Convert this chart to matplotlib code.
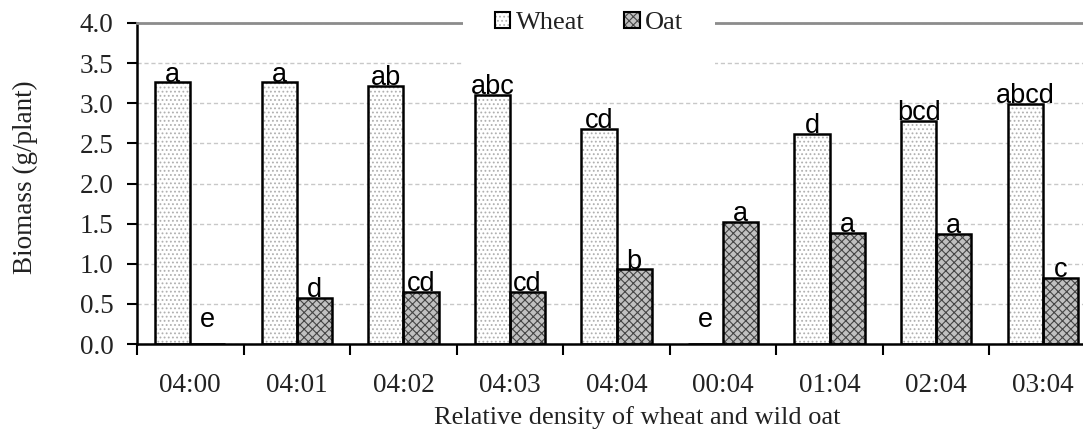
import matplotlib
matplotlib.use("Agg")
import matplotlib.pyplot as plt
import numpy as np
from matplotlib.patches import Patch
from matplotlib.legend_handler import HandlerTuple

categories = ["04:00", "04:01", "04:02", "04:03", "04:04",
              "00:04", "01:04", "02:04", "03:04"]
wheat = [3.26, 3.26, 3.22, 3.10, 2.68, 0.0, 2.62, 2.78, 2.99]
oat = [0.0, 0.57, 0.65, 0.65, 0.93, 1.52, 1.38, 1.37, 0.82]
wheat_letters = ["a", "a", "ab", "abc", "cd", "e", "d", "bcd", "abcd"]
oat_letters = ["e", "d", "cd", "cd", "b", "a", "a", "a", "c"]
yticks = [0.0, 0.5, 1.0, 1.5, 2.0, 2.5, 3.0, 3.5, 4.0]

serif = ["Liberation Serif", "DejaVu Serif"]
sans = ["Liberation Sans", "DejaVu Sans"]
plt.rcParams["font.family"] = serif
plt.rcParams["hatch.linewidth"] = 0.8
TXT = "#222222"

W, H = 1083, 432
fig = plt.figure(figsize=(W / 100, H / 100), dpi=100)
ax = fig.add_axes([137 / W, (H - 344) / H, (1096 - 137) / W, (344 - 23) / H])

x = np.arange(len(categories))
w = 0.33
WHEAT_HATCH, OAT_HATCH = "....", "xxxx"

# fill layers carry the hatch (hatch colour follows edgecolor), outline drawn on top
ax.bar(x - w / 2, wheat, w, color="white", edgecolor="#b0b0b0", hatch=WHEAT_HATCH,
       linewidth=0, zorder=2)
ax.bar(x + w / 2, oat, w, color="#c0c0c0", edgecolor="#454545", hatch=OAT_HATCH,
       linewidth=0, zorder=2)
ax.bar(x - w / 2, wheat, w, fill=False, edgecolor="black", linewidth=1.8, zorder=3)
ax.bar(x + w / 2, oat, w, fill=False, edgecolor="black", linewidth=1.8, zorder=3)

for xi, v, lab in zip(x - w / 2, wheat, wheat_letters):
    y = v if v > 0 else 0.2
    ax.text(xi, y + 0.01, lab, ha="center", va="baseline", fontsize=19.5,
            family=sans, color="black", zorder=4)
for xi, v, lab in zip(x + w / 2, oat, oat_letters):
    y = v if v > 0 else 0.2
    ax.text(xi, y + 0.01, lab, ha="center", va="baseline", fontsize=19.5,
            family=sans, color="black", zorder=4)

ax.set_xlim(-0.5, len(categories) - 0.5)
ax.set_ylim(0, 4.0)
ax.set_yticks(yticks)
ax.set_yticklabels([f"{t:.1f}" for t in yticks])
ax.set_xticks(np.arange(len(categories) + 1) - 0.5)
ax.set_xticklabels([])
ax.set_xticks(x, minor=True)
ax.set_xticklabels(categories, minor=True)
ax.tick_params(axis="x", which="major", direction="out", length=8, width=1.5, color="black")
ax.tick_params(axis="x", which="minor", length=0, pad=21, labelsize=19.5, labelcolor=TXT)
ax.tick_params(axis="y", direction="out", length=7, width=1.5, labelsize=19.5,
               pad=10, labelcolor=TXT)

ax.yaxis.grid(True, linestyle=(0, (3, 2)), color="#c8c8c8", linewidth=1.0)
ax.set_axisbelow(True)

for s in ["left", "bottom"]:
    ax.spines[s].set_linewidth(1.8)
    ax.spines[s].set_color("black")
ax.spines["top"].set_color("#8c8c8c")
ax.spines["top"].set_linewidth(2.0)
ax.spines["right"].set_visible(False)

ax.set_ylabel("Biomass (g/plant)", fontsize=19.5, labelpad=30, color=TXT)
ax.yaxis.label.set_y(0.52)
ax.set_xlabel("Relative density of wheat and wild oat", fontsize=19, labelpad=6, color=TXT)
ax.xaxis.label.set_x(0.522)

h_wheat = (Patch(facecolor="white", edgecolor="#b0b0b0", hatch=WHEAT_HATCH, linewidth=0),
           Patch(fill=False, edgecolor="black", linewidth=1.5))
h_oat = (Patch(facecolor="#c0c0c0", edgecolor="#454545", hatch=OAT_HATCH, linewidth=0),
         Patch(fill=False, edgecolor="black", linewidth=1.5))
leg = ax.legend([h_wheat, h_oat], ["Wheat", "Oat"], ncol=2, loc="center",
                bbox_to_anchor=(589 / W, 1 - 23 / H), bbox_transform=fig.transFigure,
                handler_map={tuple: HandlerTuple(ndivide=1, pad=0)},
                frameon=True, facecolor="white", edgecolor="white", framealpha=1,
                fancybox=False, fontsize=19, handlelength=0.6, handleheight=0.6,
                handletextpad=0.2, columnspacing=1.5, borderpad=1.2, borderaxespad=0,
                labelcolor=TXT)
leg.get_frame().set_linewidth(0)
leg.set_zorder(10)

fig.savefig("out.png", dpi=100)
